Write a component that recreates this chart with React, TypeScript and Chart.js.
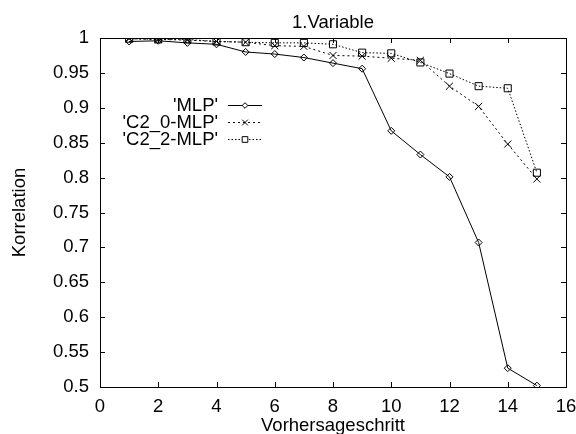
import React, { useEffect, useRef } from "react";
import { Chart, registerables } from "chart.js";

Chart.register(...registerables);

const steps = [1, 2, 3, 4, 5, 6, 7, 8, 9, 10, 11, 12, 13, 14, 15];
const mlp = [0.995, 0.996, 0.993, 0.991, 0.98, 0.977, 0.972, 0.964, 0.956, 0.867, 0.833, 0.801, 0.707, 0.527, 0.502];
const c20 = [0.999, 0.998, 0.997, 0.995, 0.994, 0.989, 0.988, 0.975, 0.974, 0.971, 0.968, 0.931, 0.902, 0.848, 0.798];
const c22 = [0.999, 0.998, 0.998, 0.995, 0.994, 0.993, 0.993, 0.991, 0.979, 0.978, 0.965, 0.949, 0.931, 0.928, 0.807];
const seriesNames = ["'MLP'", "'C2_0-MLP'", "'C2_2-MLP'"];
const titleText = "1.Variable";
const xLabel = "Vorhersageschritt";
const yLabel = "Korrelation";

const FONT = "'Liberation Sans', Arial, Helvetica, sans-serif";
const FS = 18.5;

function drawMarker(ctx: CanvasRenderingContext2D, style: string, r: number, x: number, y: number) {
  ctx.beginPath();
  if (style === "rectRot") {
    ctx.moveTo(x, y - r);
    ctx.lineTo(x + r, y);
    ctx.lineTo(x, y + r);
    ctx.lineTo(x - r, y);
    ctx.closePath();
    ctx.fill();
    ctx.stroke();
  } else if (style === "rect") {
    const s = r * Math.SQRT1_2;
    ctx.rect(x - s, y - s, 2 * s, 2 * s);
    ctx.fill();
    ctx.stroke();
  } else {
    const s = r * Math.SQRT1_2;
    ctx.moveTo(x - s, y - s);
    ctx.lineTo(x + s, y + s);
    ctx.moveTo(x + s, y - s);
    ctx.lineTo(x - s, y + s);
    ctx.stroke();
  }
}

const frameAndLegend = {
  id: "frameAndLegend",
  afterDatasetsDraw(chart: any) {
    const { ctx, chartArea: a, scales } = chart;
    const xs = scales.x;
    const ys = scales.y;
    ctx.save();
    ctx.strokeStyle = "#000";
    ctx.lineWidth = 1;
    ctx.setLineDash([]);
    ctx.strokeRect(Math.round(a.left) + 0.5, Math.round(a.top) + 0.5, Math.round(a.right - a.left), Math.round(a.bottom - a.top));
    const tl = 5;
    ctx.beginPath();
    xs.ticks.forEach((t: any) => {
      const px = Math.round(xs.getPixelForValue(t.value)) + 0.5;
      ctx.moveTo(px, a.bottom);
      ctx.lineTo(px, a.bottom - tl);
      ctx.moveTo(px, a.top);
      ctx.lineTo(px, a.top + tl);
    });
    ys.ticks.forEach((t: any) => {
      const py = Math.round(ys.getPixelForValue(t.value)) + 0.5;
      ctx.moveTo(a.left, py);
      ctx.lineTo(a.left + tl, py);
      ctx.moveTo(a.right, py);
      ctx.lineTo(a.right - tl, py);
    });
    ctx.stroke();

    // legend (gnuplot style, inside plot)
    const textRight = 218;
    const lineX0 = 228;
    const lineX1 = 262;
    const rowY = [106, 123, 140];
    ctx.font = `${FS}px ${FONT}`;
    ctx.textAlign = "right";
    ctx.textBaseline = "middle";
    chart.data.datasets.forEach((ds: any, i: number) => {
      const y = rowY[i];
      ctx.fillStyle = "#000";
      ctx.fillText(seriesNames[i], textRight, y);
      ctx.setLineDash(ds.borderDash || []);
      ctx.lineWidth = 1;
      ctx.beginPath();
      ctx.moveTo(lineX0, y - 0.5);
      ctx.lineTo(lineX1, y - 0.5);
      ctx.stroke();
      ctx.setLineDash([]);
      ctx.fillStyle = "#fff";
      drawMarker(ctx, ds.pointStyle, ds.pointRadius * 0.8, (lineX0 + lineX1) / 2, y - 0.5);
    });
    ctx.restore();
  },
};

export default function App() {
  const ref = useRef<HTMLCanvasElement | null>(null);
  useEffect(() => {
    document.body.style.margin = "0";
    if (!ref.current) return;
    const toPts = (vals: number[]) => steps.map((s, i) => ({ x: s, y: vals[i] }));
    const chart = new Chart(ref.current, {
      type: "line",
      data: {
        datasets: [
          {
            label: seriesNames[0],
            data: toPts(mlp),
            borderColor: "#000",
            borderWidth: 1,
            pointStyle: "rectRot",
            pointRadius: 3.5,
            pointBorderColor: "#000",
            pointBackgroundColor: "rgba(255,255,255,0)",
            pointBorderWidth: 1,
            tension: 0,
          },
          {
            label: seriesNames[1],
            data: toPts(c20),
            borderColor: "#000",
            borderWidth: 1,
            borderDash: [2, 3],
            pointStyle: "crossRot",
            pointRadius: 5,
            pointBorderColor: "#000",
            pointBorderWidth: 1,
            tension: 0,
          },
          {
            label: seriesNames[2],
            data: toPts(c22),
            borderColor: "#000",
            borderWidth: 1,
            borderDash: [1.5, 2],
            pointStyle: "rect",
            pointRadius: 5,
            pointBorderColor: "#000",
            pointBackgroundColor: "rgba(255,255,255,0)",
            pointBorderWidth: 1,
            tension: 0,
          },
        ],
      } as any,
      options: {
        responsive: false,
        animation: false,
        devicePixelRatio: 1,
        layout: { padding: { left: 0, right: 10, top: 0, bottom: 0 } },
        plugins: {
          legend: { display: false },
          tooltip: { enabled: false },
          title: {
            display: true,
            text: titleText,
            fullSize: false,
            color: "#000",
            font: { family: FONT, size: FS, weight: "normal" },
            padding: { top: 11.5, bottom: 4.3 },
          },
        },
        scales: {
          x: {
            type: "linear",
            min: 0,
            max: 16,
            ticks: {
              stepSize: 2,
              color: "#000",
              padding: 9,
              maxRotation: 0,
              font: { family: FONT, size: FS },
            },
            grid: { display: true, drawOnChartArea: false, drawTicks: false },
            border: { display: false },
            title: {
              display: true,
              text: xLabel,
              color: "#000",
              font: { family: FONT, size: FS },
              padding: { top: 0, bottom: -3 },
            },
            afterFit(scale: any) {
              scale.height = 47;
              scale.paddingLeft = 0;
              scale.paddingRight = 0;
            },
          },
          y: {
            type: "linear",
            min: 0.5,
            max: 1,
            ticks: {
              stepSize: 0.05,
              color: "#000",
              padding: 11,
              font: { family: FONT, size: FS },
              callback: (v: any) => String(Number(Number(v).toFixed(2))),
            },
            grid: { display: true, drawOnChartArea: false, drawTicks: false },
            border: { display: false },
            title: {
              display: true,
              text: yLabel,
              color: "#000",
              font: { family: FONT, size: FS },
              padding: { top: 9, bottom: 0 },
            },
            afterFit(scale: any) {
              scale.width = 100;
              scale.paddingTop = 0;
              scale.paddingBottom = 0;
            },
          },
        },
      } as any,
      plugins: [frameAndLegend],
    });
    return () => chart.destroy();
  }, []);
  return (
    <div style={{ position: "fixed", left: 0, top: 0, width: 576, height: 434, background: "#fff" }}>
      <canvas ref={ref} width={576} height={434} />
    </div>
  );
}
